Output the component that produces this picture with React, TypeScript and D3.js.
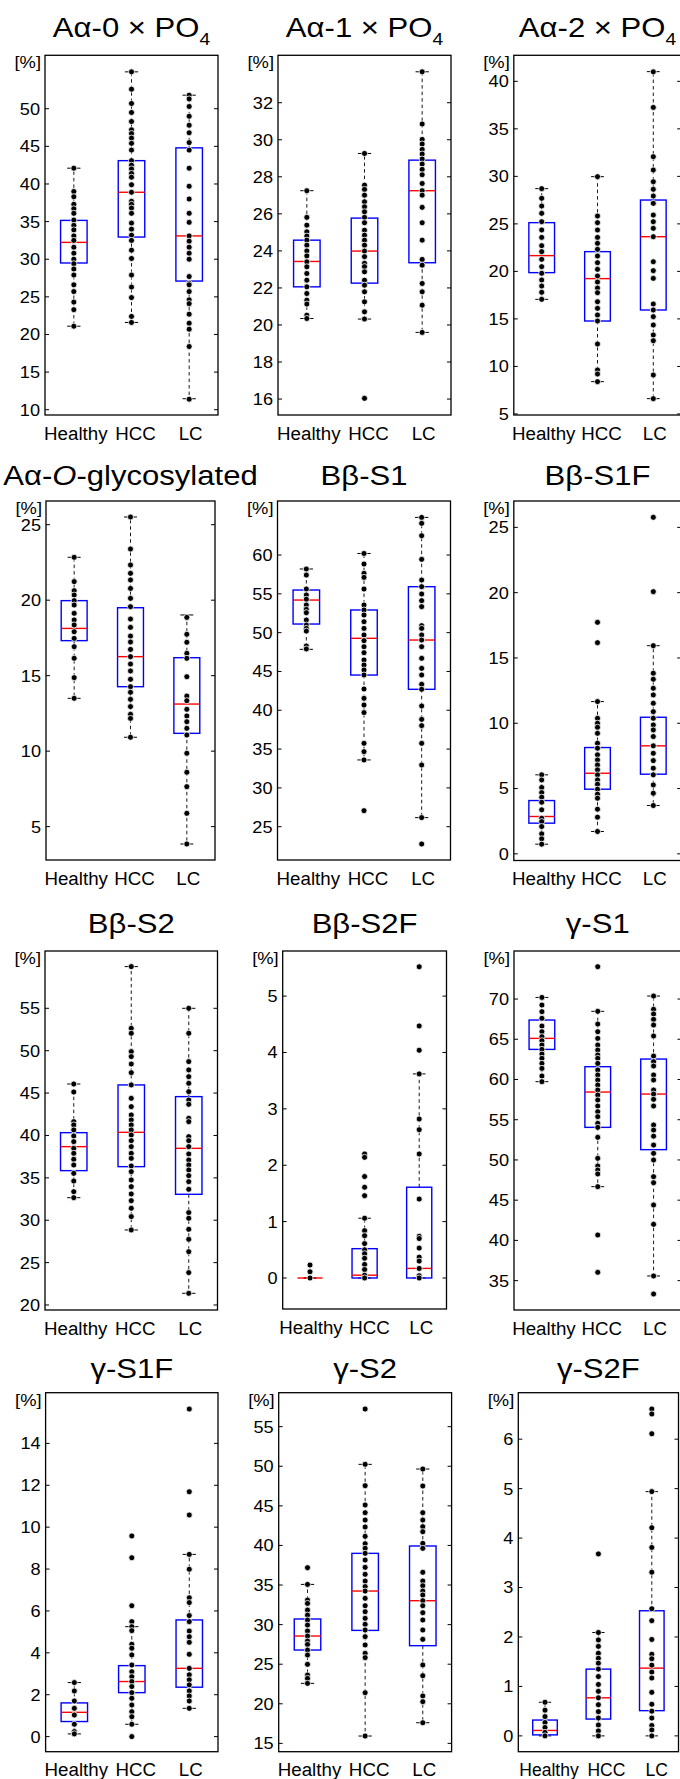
import * as d3 from 'd3'

const W = 680, H = 1779
const FONT = '"Liberation Sans", Arial, Helvetica, sans-serif'

const GROUPS = ['Healthy', 'HCC', 'LC']

type Seg = [string, '' | 'sub' | 'it']
const TITLES: Seg[][] = [
  [['Aα-0 × PO', ''], ['4', 'sub']],
  [['Aα-1 × PO', ''], ['4', 'sub']],
  [['Aα-2 × PO', ''], ['4', 'sub']],
  [['Aα-', ''], ['O', 'it'], ['-glycosylated', '']],
  [['Bβ-S1', '']],
  [['Bβ-S1F', '']],
  [['Bβ-S2', '']],
  [['Bβ-S2F', '']],
  [['γ-S1', '']],
  [['γ-S1F', '']],
  [['γ-S2', '']],
  [['γ-S2F', '']],
]

const TICKS = [
  [10, 15, 20, 25, 30, 35, 40, 45, 50],
  [16, 18, 20, 22, 24, 26, 28, 30, 32],
  [5, 10, 15, 20, 25, 30, 35, 40],
  [5, 10, 15, 20, 25],
  [25, 30, 35, 40, 45, 50, 55, 60],
  [0, 5, 10, 15, 20, 25],
  [20, 25, 30, 35, 40, 45, 50, 55],
  [0, 1, 2, 3, 4, 5],
  [35, 40, 45, 50, 55, 60, 65, 70],
  [0, 2, 4, 6, 8, 10, 12, 14],
  [15, 20, 25, 30, 35, 40, 45, 50, 55],
  [0, 1, 2, 3, 4, 5, 6],
]

const DOMAINS = [
  [9.3, 57.1], [15.14, 34.56], [4.89, 42.74],
  [2.79, 26.57], [20.71, 66.96], [-0.51, 27.02],
  [19.41, 61.76], [-0.55, 5.8], [31.35, 75.97],
  [-0.72, 16.42], [13.95, 59.29], [-0.32, 6.94],
]

// box stats per group: [lower whisker, q1, median, q3, upper whisker]
const A0_BOX = [[21.1, 29.5, 32.24, 35.16, 42.1], [21.6, 32.95, 38.9, 43.1, 54.9], [11.46, 27.1, 33.1, 44.8, 51.8]]
const A1_BOX = [[20.35, 22.06, 23.43, 24.58, 27.25], [20.32, 22.26, 23.99, 25.77, 29.26], [19.6, 23.36, 27.25, 28.9, 33.67]]
const A2_BOX = [[17.06, 19.87, 21.66, 25.13, 28.71], [8.4, 14.78, 19.24, 22.08, 29.97], [6.61, 15.94, 23.65, 27.51, 41.02]]
const AO_BOX = [[13.5, 17.32, 18.13, 19.97, 22.84], [10.92, 14.27, 16.26, 19.5, 25.51], [3.85, 11.18, 13.12, 16.19, 19.02]]
const BS1_BOX = [[47.85, 51.11, 54.2, 55.49, 58.2], [33.6, 44.54, 49.27, 52.92, 60.2], [26.17, 42.7, 49.05, 55.92, 64.85]]
const BS1F_BOX = [[0.74, 2.35, 2.86, 4.08, 6.05], [1.71, 4.95, 6.17, 8.14, 11.66], [3.7, 6.1, 8.27, 10.46, 15.94]]
const BS2_BOX = [[32.66, 35.85, 38.68, 40.33, 46.07], [28.85, 36.32, 40.37, 45.96, 59.92], [21.38, 33.06, 38.48, 44.58, 55.0]]
const BS2F_BOX = [[0, 0, 0, 0, 0], [0, 0, 0.05, 0.52, 1.06], [0, 0, 0.17, 1.61, 3.62]]
const GS1_BOX = [[59.73, 63.74, 65.11, 67.39, 70.2], [46.68, 54.05, 58.44, 61.59, 68.47], [35.58, 51.28, 58.19, 62.54, 70.37]]
const GS1F_BOX = [[0.13, 0.72, 1.16, 1.61, 2.58], [0.59, 2.1, 2.63, 3.39, 5.25], [1.35, 2.36, 3.26, 5.57, 8.7]]
const GS2_BOX = [[22.58, 26.79, 28.56, 30.71, 35.08], [15.93, 29.27, 34.24, 39.0, 50.24], [17.61, 27.34, 33.02, 39.93, 49.65]]
const GS2F_BOX = [[0, 0.02, 0.11, 0.32, 0.68], [0, 0.34, 0.77, 1.35, 2.09], [0, 0.51, 1.37, 2.53, 4.94]]

// individual samples per group: Healthy, HCC, LC
const A0_DOTS = [
  [42.1, 39.0, 38.3, 37.3, 36.7, 36.1, 35.2, 34.5, 33.9, 33.1, 32.5, 31.6, 30.8, 30.0, 29.4, 28.7, 27.9, 26.6, 25.7, 24.3, 23.3, 21.1],
  [54.9, 52.6, 50.7, 49.5, 48.3, 47.2, 46.7, 46.1, 45.4, 44.5, 43.1, 42.5, 42.0, 41.4, 40.9, 39.9, 38.9, 37.7, 37.3, 36.8, 36.1, 34.8, 34.0, 33.2, 32.5, 31.2, 30.1, 27.9, 26.3, 24.9, 22.4, 21.6],
  [51.8, 51.3, 50.3, 49.0, 47.8, 46.8, 45.5, 44.5, 42.1, 39.7, 38.0, 36.1, 34.9, 33.1, 32.4, 31.6, 30.8, 30.0, 27.7, 26.8, 26.6, 25.7, 24.6, 24.1, 22.7, 21.5, 20.7, 18.4, 11.4],
]
const A1_DOTS = [
  [27.25, 25.81, 25.39, 25.03, 24.8, 24.58, 24.31, 24.0, 23.73, 23.41, 23.14, 22.78, 22.42, 22.06, 21.7, 21.34, 21.13, 20.53, 20.35],
  [29.26, 27.55, 27.32, 27.01, 26.65, 26.38, 26.11, 25.81, 25.52, 25.12, 24.85, 24.58, 24.31, 23.99, 23.69, 23.33, 23.15, 22.87, 22.42, 22.15, 21.79, 21.25, 20.71, 20.32, 16.04],
  [33.67, 30.85, 30.02, 29.77, 29.48, 29.23, 28.96, 28.69, 28.4, 28.11, 27.64, 27.25, 27.01, 26.35, 25.52, 24.58, 23.54, 23.23, 22.24, 21.79, 21.07, 19.6],
]
const A2_DOTS = [
  [28.71, 27.69, 26.88, 26.11, 25.23, 24.36, 23.58, 22.71, 22.08, 21.27, 20.5, 19.8, 19.1, 18.46, 17.8, 17.06],
  [29.97, 25.83, 25.13, 24.36, 23.58, 22.95, 22.32, 21.62, 20.92, 20.22, 19.52, 18.88, 18.25, 17.76, 16.81, 16.11, 15.41, 14.78, 12.36, 9.63, 9.2, 8.4],
  [41.0, 37.26, 32.07, 30.67, 29.44, 28.64, 27.93, 27.16, 25.93, 25.23, 24.53, 23.65, 21.02, 20.08, 19.27, 16.57, 15.94, 15.24, 14.36, 13.31, 12.71, 9.1, 6.61],
]
const AO_DOTS = [
  [22.84, 21.23, 20.63, 20.34, 19.97, 19.68, 19.13, 18.69, 18.36, 17.91, 17.47, 16.92, 16.15, 14.87, 13.5],
  [25.51, 23.39, 22.33, 21.78, 21.34, 20.78, 20.12, 19.57, 18.75, 18.2, 17.62, 17.23, 16.74, 16.26, 15.77, 15.31, 14.76, 14.27, 13.9, 13.43, 12.95, 12.44, 12.17, 10.92],
  [18.86, 17.74, 17.21, 16.48, 16.15, 14.93, 13.65, 13.34, 12.77, 12.33, 11.95, 11.51, 11.07, 9.86, 8.6, 7.65, 5.88, 3.85],
]
const BS1_DOTS = [
  [58.2, 57.42, 55.62, 54.85, 54.3, 53.56, 53.0, 52.57, 51.63, 50.98, 50.55, 50.2, 48.28, 47.9],
  [60.2, 58.84, 57.64, 57.12, 55.62, 53.56, 52.92, 52.27, 51.41, 50.55, 49.7, 48.97, 48.19, 47.42, 46.48, 45.83, 45.19, 44.54, 42.74, 41.54, 40.68, 39.7, 35.74, 34.67, 33.6, 27.07],
  [64.85, 64.08, 62.49, 59.44, 56.78, 55.92, 54.98, 54.12, 53.35, 50.9, 50.55, 49.7, 49.05, 48.19, 46.69, 45.4, 44.54, 43.34, 42.7, 40.55, 38.83, 38.02, 35.74, 32.95, 26.17, 22.77],
]
const BS1F_DOTS = [
  [6.05, 5.66, 5.08, 4.69, 4.34, 3.95, 3.37, 2.73, 2.47, 2.09, 1.53, 1.15, 0.74],
  [17.73, 16.17, 11.66, 10.38, 10.0, 9.69, 9.23, 8.47, 8.09, 7.58, 7.19, 6.81, 6.43, 6.05, 5.66, 5.33, 4.95, 4.57, 4.26, 3.42, 2.81, 1.71],
  [25.77, 20.08, 15.94, 13.83, 13.37, 12.68, 12.17, 11.53, 10.89, 10.38, 9.87, 9.49, 8.98, 8.27, 7.7, 7.14, 6.56, 6.05, 5.28, 4.64, 3.7],
]
const BS2_DOTS = [
  [46.07, 45.13, 41.63, 41.24, 40.65, 39.94, 39.27, 38.48, 37.89, 37.19, 36.52, 35.53, 34.63, 33.37, 32.66],
  [59.92, 52.64, 52.05, 49.89, 49.3, 48.43, 47.41, 45.96, 44.38, 43.4, 42.42, 41.83, 41.24, 40.65, 40.06, 39.39, 38.68, 37.89, 37.3, 36.4, 35.73, 34.75, 33.96, 33.1, 32.31, 31.41, 30.43, 28.85],
  [55.0, 52.05, 48.71, 47.73, 46.94, 46.15, 45.17, 44.19, 43.67, 42.02, 41.63, 39.86, 39.39, 38.68, 37.82, 37.11, 36.52, 35.93, 35.26, 34.55, 33.65, 30.9, 30.23, 28.93, 27.75, 26.29, 23.82, 21.38],
]
const BS2F_DOTS = [
  [0.23, 0.11, 0.0],
  [2.2, 2.14, 1.8, 1.61, 1.46, 1.06, 0.84, 0.75, 0.61, 0.5, 0.43, 0.35, 0.24, 0.15, 0.05, 0.0],
  [5.52, 4.47, 4.04, 3.62, 2.82, 2.63, 2.2, 1.4, 0.74, 0.7, 0.53, 0.37, 0.3, 0.17, 0.04, 0.0],
]
const GS1_DOTS = [
  [70.2, 69.25, 68.43, 67.6, 66.64, 65.94, 65.32, 64.82, 64.28, 63.74, 63.16, 62.63, 62.0, 61.38, 60.43, 59.73],
  [74.02, 68.47, 66.89, 65.94, 65.11, 64.28, 63.66, 63.04, 62.63, 62.0, 61.18, 60.56, 59.93, 59.31, 58.69, 58.07, 57.45, 56.7, 56.0, 55.38, 54.55, 54.05, 52.81, 50.2, 49.25, 48.75, 48.26, 46.68, 40.67, 36.03],
  [70.37, 68.72, 68.14, 67.47, 66.77, 65.4, 62.91, 62.21, 61.67, 60.56, 59.93, 58.69, 58.19, 57.53, 56.7, 54.34, 53.71, 52.96, 51.85, 50.82, 49.99, 47.92, 47.17, 44.4, 42.0, 35.58, 33.34],
]
const GS1F_DOTS = [
  [2.58, 2.18, 1.7, 1.35, 1.03, 0.59, 0.24, 0.13],
  [9.58, 8.54, 6.25, 5.49, 5.25, 5.06, 4.41, 4.22, 3.9, 3.42, 3.1, 2.86, 2.63, 2.39, 2.1, 1.83, 1.51, 1.19, 0.95, 0.59, 0.0],
  [15.64, 11.69, 10.58, 8.7, 7.99, 6.63, 6.4, 5.78, 5.49, 5.04, 4.77, 4.5, 3.93, 3.26, 2.95, 2.71, 2.47, 2.18, 1.94, 1.7, 1.35],
]
const GS2_DOTS = [
  [37.19, 35.08, 33.1, 32.68, 31.84, 31.2, 30.58, 29.94, 29.19, 28.56, 27.92, 27.5, 26.79, 26.16, 24.98, 23.63, 23.21, 22.58],
  [57.23, 50.24, 47.55, 45.11, 44.14, 43.21, 42.33, 41.15, 40.22, 39.64, 39.0, 38.16, 37.23, 36.35, 35.51, 34.8, 34.24, 33.32, 32.39, 31.63, 30.79, 30.04, 29.32, 28.48, 27.43, 26.37, 25.83, 21.4, 15.93],
  [49.65, 47.51, 44.14, 43.21, 42.37, 41.74, 40.26, 39.63, 36.6, 35.51, 34.91, 34.24, 33.74, 33.02, 32.39, 31.51, 30.58, 29.32, 28.14, 24.9, 23.55, 20.99, 20.27, 17.61],
]
const GS2F_DOTS = [
  [0.68, 0.52, 0.39, 0.27, 0.17, 0.07, 0.0],
  [3.68, 2.09, 1.94, 1.81, 1.67, 1.57, 1.47, 1.35, 1.2, 1.04, 0.9, 0.77, 0.63, 0.49, 0.36, 0.22, 0.1, 0.0],
  [6.61, 6.51, 6.11, 4.94, 4.21, 3.81, 3.31, 2.57, 2.33, 1.95, 1.65, 1.56, 1.43, 1.29, 1.17, 0.88, 0.64, 0.5, 0.36, 0.21, 0.12, 0.0],
]

const BOXES = [A0_BOX, A1_BOX, A2_BOX, AO_BOX, BS1_BOX, BS1F_BOX, BS2_BOX, BS2F_BOX, GS1_BOX, GS1F_BOX, GS2_BOX, GS2F_BOX]
const DOTS = [A0_DOTS, A1_DOTS, A2_DOTS, AO_DOTS, BS1_DOTS, BS1F_DOTS, BS2_DOTS, BS2F_DOTS, GS1_DOTS, GS1F_DOTS, GS2_DOTS, GS2F_DOTS]

// plot frames (px), title baselines, group-label nudges
const LAYOUT = [
  { l: 45, r: 218, t: 55.3, b: 415, ty: 36.7, lx: [2, 4, 1.5] },
  { l: 278, r: 451, t: 55.3, b: 415, ty: 36.7, lx: [2, 4, 1.5] },
  { l: 513.8, r: 681.2, t: 55.3, b: 415, ty: 36.7, lx: [2, 4, 1.5] },
  { l: 46, r: 215, t: 501, b: 860, ty: 485, lx: [2, 4, 1.5] },
  { l: 277.5, r: 450.5, t: 501, b: 860, ty: 485, lx: [2, 4, 1.5] },
  { l: 513.8, r: 681.2, t: 501, b: 860.5, ty: 485, lx: [2, 4, 1.5] },
  { l: 45, r: 217.5, t: 951, b: 1310, ty: 932.7, lx: [2, 4, 1.5] },
  { l: 282.7, r: 446.5, t: 951, b: 1309, ty: 932.7, lx: [1, 5, 2] },
  { l: 514, r: 681.5, t: 951, b: 1310, ty: 932.7, lx: [2, 4, 1.5] },
  { l: 45.6, r: 218, t: 1392.7, b: 1751.7, ty: 1377.7, lx: [2, 4, 1.5] },
  { l: 278.7, r: 451.6, t: 1392.7, b: 1751.7, ty: 1377.7, lx: [2, 4, 1.5] },
  { l: 518.3, r: 678.5, t: 1392.7, b: 1751.7, ty: 1377.7, lx: [4, 8, 5] },
]

function Txt({ x, y, size, sx = 1.12, anchor = 'middle', dy, children }:
  { x: number, y: number, size: number, sx?: number, anchor?: string, dy?: string, children: any }) {
  return (
    <text transform={`translate(${x},${y}) scale(${sx},1)`} fontSize={size}
      fontFamily={FONT} textAnchor={anchor} dy={dy} fill="#000">
      {children}
    </text>
  )
}

function Panel({ i }: { i: number }) {
  const L = LAYOUT[i]
  const y = d3.scaleLinear().domain(DOMAINS[i]).range([L.b, L.t])
  const x = d3.scaleLinear().domain([0.5, 3.5]).range([L.l, L.r])
  const unit = x(1) - x(0)
  const bw = unit * 0.46
  const cw = bw * 0.5
  const cx = (L.l + L.r) / 2

  return (
    <g>
      {/* title */}
      <text transform={`translate(${cx},${L.ty}) scale(1.13,1)`} fontSize={27.5}
        fontFamily={FONT} textAnchor="middle" fill="#000">
        {TITLES[i].map(([s, k], j) =>
          k === 'sub'
            ? <tspan key={j} fontSize={17} dy={8}>{s}</tspan>
            : k === 'it'
              ? <tspan key={j} fontStyle="italic">{s}</tspan>
              : <tspan key={j}>{s}</tspan>
        )}
      </text>

      <Txt x={L.l - 4} y={L.t + 13} size={17} sx={1.08} anchor="end">[%]</Txt>

      {/* y ticks */}
      {TICKS[i].map(v => (
        <g key={v}>
          <line x1={L.l} x2={L.l + 4} y1={y(v)} y2={y(v)} stroke="#000" strokeWidth={1} />
          <line x1={L.r - 4} x2={L.r} y1={y(v)} y2={y(v)} stroke="#000" strokeWidth={1} />
          <Txt x={L.l - 5} y={y(v)} size={16.5} sx={1.1} anchor="end" dy="0.36em">{String(v)}</Txt>
        </g>
      ))}

      {/* boxes */}
      {BOXES[i].map(([lo, q1, med, q3, hi], g) => {
        const gx = x(g + 1)
        return (
          <g key={g}>
            <line x1={gx} x2={gx} y1={y(q3)} y2={y(hi)} stroke="#000" strokeWidth={0.9} strokeDasharray="3.5 3" />
            <line x1={gx} x2={gx} y1={y(q1)} y2={y(lo)} stroke="#000" strokeWidth={0.9} strokeDasharray="3.5 3" />
            <line x1={gx - cw / 2} x2={gx + cw / 2} y1={y(hi)} y2={y(hi)} stroke="#000" strokeWidth={1} />
            <line x1={gx - cw / 2} x2={gx + cw / 2} y1={y(lo)} y2={y(lo)} stroke="#000" strokeWidth={1} />
            <rect x={gx - bw / 2} y={y(q3)} width={bw} height={Math.max(0, y(q1) - y(q3))}
              fill="none" stroke="#0000ff" strokeWidth={1.4} />
            <line x1={gx - bw / 2} x2={gx + bw / 2} y1={y(med)} y2={y(med)} stroke="#ff0000" strokeWidth={1.4} />
          </g>
        )
      })}

      {/* samples */}
      {DOTS[i].map((vals, g) => vals.map((v, k) => (
        <circle key={`${g}-${k}`} cx={x(g + 1)} cy={y(v)} r={3}
          fill="#000" stroke="#fff" strokeWidth={0.8} />
      )))}

      {/* frame */}
      <rect x={L.l} y={L.t} width={L.r - L.l} height={L.b - L.t} fill="none" stroke="#000" strokeWidth={1.3} />

      {/* group labels */}
      {GROUPS.map((name, g) => (
        <Txt key={name} x={x(g + 1) + L.lx[g]} y={L.b + 24.5} size={i === 11 ? 17.5 : 18} sx={i === 11 ? 1.0 : 1.04}>{name}</Txt>
      ))}
    </g>
  )
}

export default function App() {
  return (
    <svg width={W} height={H} viewBox={`0 0 ${W} ${H}`}
      style={{ position: 'absolute', left: 0, top: 0, background: '#fff' }}>
      <rect width={W} height={H} fill="#fff" />
      {LAYOUT.map((_, i) => <Panel key={i} i={i} />)}
    </svg>
  )
}
